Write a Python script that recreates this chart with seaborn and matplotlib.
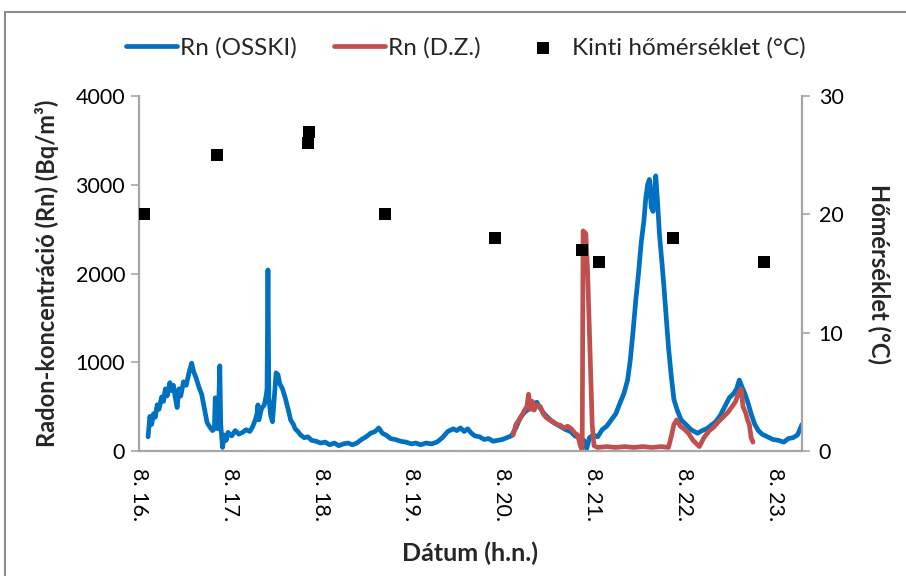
import pandas as pd
import numpy as np
import matplotlib
matplotlib.use("Agg")
import matplotlib.pyplot as plt
import seaborn as sns
from matplotlib.patches import Rectangle

# Rn (OSSKI) - nap (augusztus), Bq/m3
osski_day = [16.10, 16.12, 16.14, 16.16, 16.18, 16.20, 16.22, 16.25, 16.27, 16.29,
             16.31, 16.34, 16.36, 16.38, 16.40, 16.42, 16.44, 16.46, 16.49, 16.52,
             16.55, 16.58, 16.60, 16.63, 16.66, 16.69, 16.72, 16.75, 16.78, 16.81,
             16.83, 16.84, 16.85, 16.87, 16.89, 16.90, 16.92, 16.94, 16.96, 16.98,
             17.02, 17.06, 17.10, 17.14, 17.18, 17.22, 17.25, 17.28, 17.30, 17.31,
             17.32, 17.35, 17.38, 17.40, 17.41, 17.42, 17.43, 17.45, 17.47, 17.49,
             17.51, 17.53, 17.55, 17.58, 17.61, 17.64, 17.67, 17.70, 17.72, 17.75,
             17.78, 17.82, 17.86, 17.90, 17.95, 18.00, 18.05, 18.10, 18.15, 18.20,
             18.25, 18.30, 18.35, 18.40, 18.45, 18.50, 18.55, 18.60, 18.64, 18.68,
             18.72, 18.77, 18.82, 18.88, 18.94, 19.00, 19.05, 19.10, 19.16, 19.22,
             19.28, 19.34, 19.40, 19.46, 19.50, 19.54, 19.58, 19.62, 19.66, 19.70,
             19.75, 19.80, 19.85, 19.90, 19.95, 20.00, 20.05, 20.10, 20.15, 20.20,
             20.25, 20.30, 20.34, 20.38, 20.42, 20.46, 20.50, 20.55, 20.60, 20.65,
             20.70, 20.75, 20.80, 20.85, 20.90, 20.93, 20.96, 21.00, 21.05, 21.10,
             21.15, 21.20, 21.25, 21.30, 21.34, 21.38, 21.41, 21.44, 21.47, 21.50,
             21.53, 21.56, 21.58, 21.60, 21.62, 21.64, 21.66, 21.68, 21.69, 21.71,
             21.73, 21.76, 21.78, 21.81, 21.83, 21.86, 21.89, 21.93, 21.97, 22.02,
             22.08, 22.15, 22.20, 22.25, 22.30, 22.35, 22.40, 22.45, 22.50, 22.55,
             22.58, 22.61, 22.64, 22.67, 22.70, 22.74, 22.78, 22.82, 22.86, 22.92,
             22.98, 23.04, 23.10, 23.15, 23.20, 23.25, 23.28, 23.30]
osski_rn = [160, 390, 300, 420, 380, 520, 470, 610, 560, 700,
            620, 770, 680, 740, 600, 490, 700, 620, 780, 740,
            880, 990, 900, 820, 720, 640, 480, 320, 270, 230,
            250, 600, 320, 250, 960, 300, 40, 180, 120, 210,
            170, 230, 190, 210, 240, 220, 270, 350, 420, 520,
            350, 480, 520, 620, 700, 2040, 600, 400, 330, 600,
            880, 860, 760, 700, 600, 480, 350, 300, 250, 220,
            180, 150, 160, 120, 110, 90, 100, 70, 90, 60,
            80, 90, 70, 90, 130, 160, 200, 220, 260, 200,
            180, 140, 130, 110, 100, 80, 90, 70, 90, 80,
            100, 150, 220, 250, 230, 260, 220, 250, 200, 170,
            160, 130, 140, 110, 120, 130, 150, 170, 260, 380,
            440, 480, 520, 550, 480, 420, 380, 330, 300, 270,
            240, 220, 170, 150, 120, 30, 150, 180, 160, 240,
            280, 350, 420, 550, 650, 800, 1030, 1350, 1700, 2000,
            2350, 2600, 2850, 3000, 3060, 2750, 2700, 3000, 3100, 2800,
            2450, 2100, 1850, 1450, 1170, 850, 580, 450, 350, 300,
            240, 200, 230, 250, 290, 330, 400, 500, 600, 650,
            700, 800, 720, 650, 560, 420, 300, 230, 190, 160,
            130, 120, 100, 140, 150, 180, 250, 300]

# Rn (D.Z.)
dz_day = [20.12, 20.15, 20.20, 20.24, 20.27, 20.29, 20.31, 20.33, 20.35, 20.38,
          20.42, 20.45, 20.48, 20.52, 20.56, 20.60, 20.64, 20.68, 20.72, 20.76,
          20.80, 20.83, 20.86, 20.88, 20.89, 20.92, 20.94, 20.96, 20.98, 20.99,
          21.01, 21.05, 21.15, 21.25, 21.35, 21.45, 21.55, 21.65, 21.75, 21.83,
          21.86, 21.89, 21.92, 21.96, 22.00, 22.05, 22.10, 22.17, 22.22, 22.28,
          22.33, 22.38, 22.43, 22.48, 22.53, 22.57, 22.60, 22.63, 22.65, 22.68,
          22.70, 22.72, 22.74, 22.76]
dz_rn = [180, 300, 370, 450, 500, 640, 470, 560, 460, 520,
         500, 420, 380, 350, 330, 300, 290, 260, 280, 250,
         200, 180, 60, 10, 2480, 2450, 2000, 1330, 650, 300,
         60, 40, 50, 40, 50, 40, 50, 40, 50, 40,
         160, 300, 350, 280, 250, 200, 120, 50, 150, 230,
         270, 330, 380, 430, 500, 560, 650, 700, 500, 430,
         350, 300, 150, 100]

# kinti hőmérséklet (°C)
temp_day = [16.06, 16.86, 17.87, 17.86, 18.71, 19.92, 20.88, 21.06, 21.88, 22.88]
temp_c = [20, 25, 27, 26, 20, 18, 17, 16, 18, 16]

day_ticks = [16, 17, 18, 19, 20, 21, 22, 23]
day_labels = ["8. 16.", "8. 17.", "8. 18.", "8. 19.", "8. 20.", "8. 21.", "8. 22.", "8. 23."]

df_osski = pd.DataFrame({"nap": osski_day, "rn": osski_rn})
df_dz = pd.DataFrame({"nap": dz_day, "rn": dz_rn})
df_temp = pd.DataFrame({"nap": temp_day, "t": temp_c})

sns.set_style("white")
plt.rcParams["font.family"] = ["Lato", "DejaVu Sans"]

gray = "#a6a6a6"

fig = plt.figure(figsize=(9.06, 5.76), dpi=100)
ax = fig.add_axes([0.1534, 0.217, 0.7318, 0.6163])
ax2 = ax.twinx()

sns.lineplot(x="nap", y="rn", data=df_osski, color="#0070c0", lw=3.4, ax=ax,
             estimator=None, sort=False, legend=False, label="Rn (OSSKI)")
sns.lineplot(x="nap", y="rn", data=df_dz, color="#c0504d", lw=3.4, ax=ax,
             estimator=None, sort=False, legend=False, label="Rn (D.Z.)")
sns.scatterplot(x="nap", y="t", data=df_temp, color="black", marker="s", s=80,
                linewidth=0, ax=ax2, legend=False, label="Kinti hőmérséklet (°C)")
for a in (ax, ax2):
    if a.get_legend() is not None:
        a.get_legend().remove()

ax.set_xlim(16, 23.3)
ax.set_ylim(0, 4000)
ax.set_yticks([0, 1000, 2000, 3000, 4000])
ax2.set_ylim(0, 30)
ax2.set_yticks([0, 10, 20, 30])
ax.set_xticks(day_ticks)
ax.set_xticklabels(day_labels, rotation=270)

for a in (ax, ax2):
    for s in a.spines.values():
        s.set_visible(False)
ax.spines["left"].set_visible(True)
ax.spines["bottom"].set_visible(True)
ax2.spines["right"].set_visible(True)
for s in (ax.spines["left"], ax.spines["bottom"], ax2.spines["right"]):
    s.set_color(gray)
    s.set_linewidth(1.6)

ax.tick_params(axis="both", direction="out", length=6, width=1.2, color=gray,
               labelsize=15.5, labelcolor="black", pad=4)
ax.tick_params(axis="x", pad=6)
ax2.tick_params(axis="y", direction="out", length=6, width=1.2, color=gray,
                labelsize=15.5, labelcolor="black", pad=6)

ax.set_xlabel("Dátum (h.n.)", fontsize=18, fontweight="bold", labelpad=15)
ax.set_ylabel("Radon-koncentráció (Rn) (Bq/m³)", fontsize=17, fontweight="bold", labelpad=12)
ax2.set_ylabel("Hőmérséklet (°C)", fontsize=17, fontweight="bold", rotation=270, labelpad=34)

h1, l1 = ax.get_legend_handles_labels()
h2, l2 = ax2.get_legend_handles_labels()
fig.legend(h1 + h2, l1 + l2, loc="center", bbox_to_anchor=(0.514, 0.917), ncol=3,
           frameon=False, fontsize=17.5, handlelength=2.1, handletextpad=0.15,
           columnspacing=1.5, markerscale=0.9)

# keret a diagram körül
fig.patches.append(Rectangle((5 / 906, -0.01), 1.0, 1 - 12 / 576 + 0.01,
                             transform=fig.transFigure, fill=False,
                             edgecolor="#8c8c8c", lw=1.5))

fig.savefig("out.png", dpi=100)
